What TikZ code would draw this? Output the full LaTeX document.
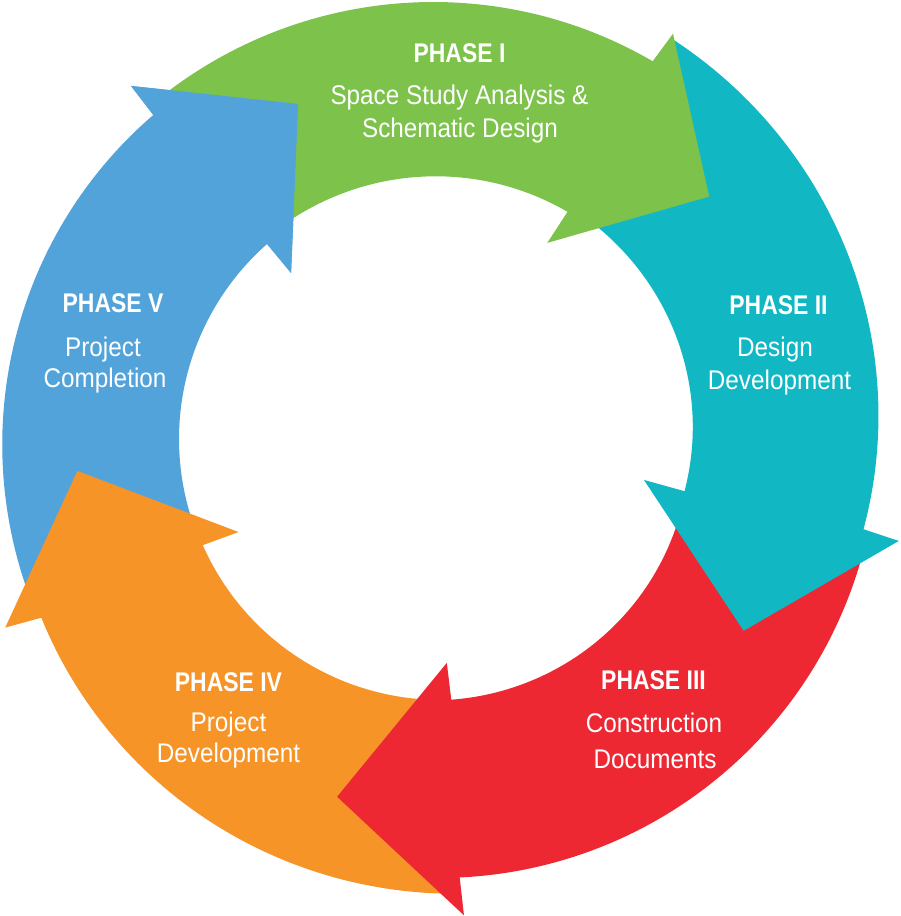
\documentclass[tikz,border=0pt]{standalone}
\usepackage{fontspec}
\newfontfamily\phreg{Liberation Sans}[FakeStretch=0.90]
\newfontfamily\phbold{Liberation Sans}[FakeStretch=0.85]
\definecolor{cgreen}{HTML}{7DC24A}
\definecolor{cteal}{HTML}{12B7C4}
\definecolor{cred}{HTML}{ED2833}
\definecolor{corange}{HTML}{F79428}
\definecolor{cblue}{HTML}{52A3DA}
\tikzset{
  ptitle/.style={font=\phbold\bfseries\fontsize{27}{30}\selectfont, text=white, anchor=base, inner sep=0pt},
  pbody/.style={font=\phreg\fontsize{27}{30}\selectfont, text=white, anchor=base, inner sep=0pt}
}
\begin{document}
\begin{tikzpicture}[x=1pt,y=1pt]
\useasboundingbox (0,0) rectangle (900,916);
\fill[white] (0,0) rectangle (900,916);
\begin{scope}[shift={(439,477)}]
% blue
\fill[cblue] plot[domain=203.2:131.4,samples=60] (\x:{439+(432-439)*(\x-203.2)/(131.4-203.2)})
  -- (131.1:468.5) -- (112.8:363.5) -- (131.7:222.4)
  -- plot[domain=131.4:203.2,samples=60] (\x:{260})
  -- cycle;
% orange
\fill[corange] plot[domain=271.7:204.2,samples=60] (\x:{455+(436-455)*(\x-271.7)/(204.2-271.7)})
  -- (203.5:473) -- (185.05:363) -- (204.9:221)
  -- plot[domain=204.2:271.7,samples=60] (\x:{259+(261-259)*(\x-204.2)/(271.7-204.2)})
  -- cycle;
% red
\fill[cred] plot[domain=-13:-87.3,samples=60] (\x:{439})
  -- (-87.0:477) -- (-105.9:372) -- (-88.0:224)
  -- plot[domain=-87.3:-13,samples=60] (\x:{252+(261-252)*(\x+13)/(-87.3+13)})
  -- cycle;
% teal
\fill[cteal] plot[domain=59.5:-12,samples=60] (\x:{463+(434-463)*(\x-59.5)/(-12-59.5)})
  -- (-12.5:471) -- (-32.2:360) -- (-11.3:209)
  -- plot[domain=-12:59.5,samples=60] (\x:{266+(251-266)*(\x-59.5)/(-12-59.5)})
  -- cycle;
% green
\fill[cgreen] plot[domain=130.4:60.5,samples=60] (\x:{441+(434-441)*(\x-130.4)/(60.5-130.4)})
  -- (60.0:468) -- (41.9:363) -- (61.1:224)
  -- plot[domain=60.5:130.4,samples=60] (\x:{265+(261-265)*(\x-130.4)/(60.5-130.4)})
  -- cycle;
% blue head again, on top of the green tail
\fill[cblue] (131.4:432) -- (131.1:468.5) -- (112.8:363.5) -- (131.7:222.4) -- (131.4:260) -- cycle;
\end{scope}
% texts
\node[ptitle] (t1) at (459.5,853) {PHASE I};
\node[pbody] (t1a) at (459.5,811) {Space Study Analysis \&};
\node[pbody] (t1b) at (460,778) {Schematic Design};
\node[ptitle] (t2) at (778.5,601) {PHASE II};
\node[pbody] (t2a) at (775,559) {Design};
\node[pbody] (t2b) at (779.5,526) {Development};
\node[ptitle] (t3) at (653.5,226) {PHASE III};
\node[pbody] (t3a) at (654,183) {Construction};
\node[pbody] (t3b) at (655,147) {Documents};
\node[ptitle] (t4) at (228.5,224) {PHASE IV};
\node[pbody] (t4a) at (228.5,184) {Project};
\node[pbody] (t4b) at (228.5,153) {Development};
\node[ptitle] (t5) at (113,603) {PHASE V};
\node[pbody] (t5a) at (103,559) {Project};
\node[pbody] (t5b) at (105,528) {Completion};
\end{tikzpicture}
\end{document}
